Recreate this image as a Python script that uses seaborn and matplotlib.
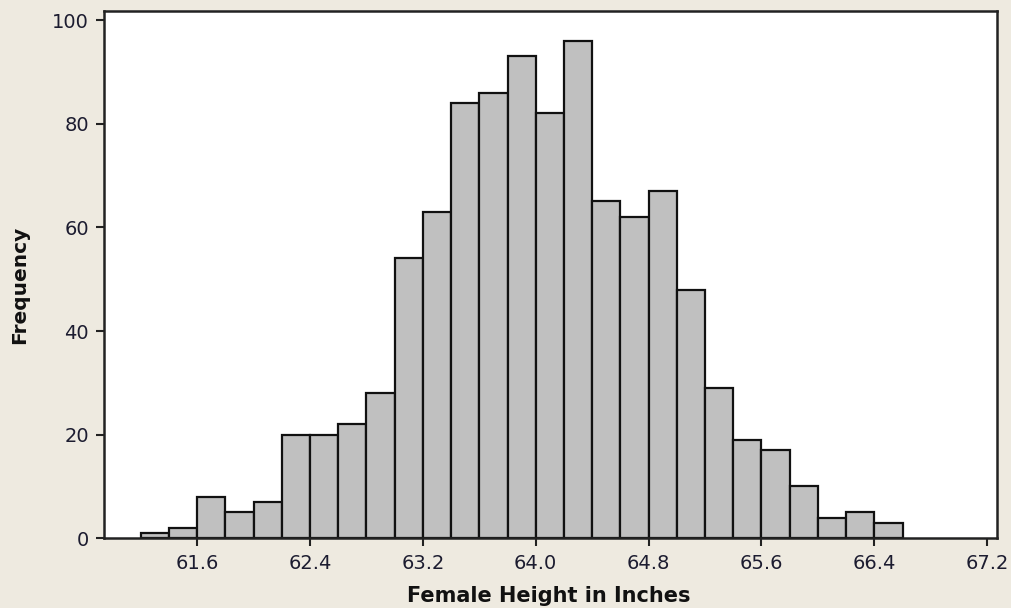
import matplotlib
matplotlib.use("Agg")
import matplotlib.pyplot as plt
import numpy as np
import pandas as pd
import seaborn as sns

# bin midpoints (inches) and counts
bin_mids = [61.3, 61.5, 61.7, 61.9, 62.1, 62.3, 62.5, 62.7, 62.9,
            63.1, 63.3, 63.5, 63.7, 63.9, 64.1, 64.3, 64.5, 64.7,
            64.9, 65.1, 65.3, 65.5, 65.7, 65.9, 66.1, 66.3, 66.5]
counts = [1, 2, 8, 5, 7, 20, 20, 22, 28,
          54, 63, 84, 86, 93, 82, 96, 65, 62,
          67, 48, 29, 19, 17, 10, 4, 5, 3]
x_ticks = [61.6, 62.4, 63.2, 64.0, 64.8, 65.6, 66.4, 67.2]
y_ticks = [0, 20, 40, 60, 80, 100]

df = pd.DataFrame({"height": bin_mids, "count": counts})

bg = "#EEEAE0"
sns.set_style("white")
plt.rcParams["font.family"] = ["DejaVu Sans"]

fig = plt.figure(figsize=(10.11, 6.08), dpi=100, facecolor=bg)
ax = fig.add_axes([0.1029, 0.1146, 0.8833, 0.8678])
ax.set_facecolor("white")

sns.histplot(data=df, x="height", weights="count", binwidth=0.2,
             binrange=(61.2, 66.6), color="#C0C0C0", edgecolor="#111111",
             linewidth=1.6, alpha=1, ax=ax)

ax.set_xlim(60.94, 67.27)
ax.set_ylim(0, 101.8)
ax.set_xticks(x_ticks)
ax.set_xticklabels([f"{v:.1f}" for v in x_ticks])
ax.set_yticks(y_ticks)

for s in ax.spines.values():
    s.set_visible(True)
    s.set_color("#222222")
    s.set_linewidth(1.8)

ax.tick_params(axis="both", which="major", direction="out", length=6,
               width=1.5, color="#222222", labelsize=14,
               labelcolor="#1c1c30", bottom=True, left=True,
               top=False, right=False, pad=5)

ax.set_xlabel("Female Height in Inches", fontsize=15, fontweight="bold",
              color="#111111")
ax.set_ylabel("Frequency", fontsize=14.5, fontweight="bold",
              color="#111111")
ax.xaxis.set_label_coords(0.498, -0.09)
ax.yaxis.set_label_coords(-0.084, 0.48)

fig.savefig("out.png", dpi=100, facecolor=bg)
